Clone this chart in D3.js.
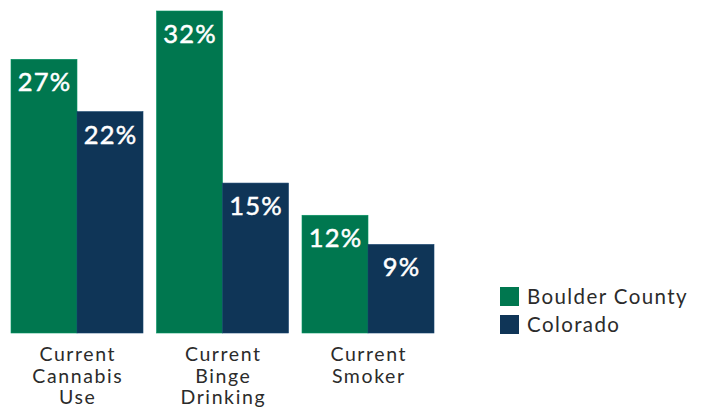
<!DOCTYPE html>
<html><head><meta charset="utf-8">
<script src="https://cdn.jsdelivr.net/npm/d3@7"></script>
<style>body{margin:0;background:#fff}svg{display:block;font-family:Lato,"Noto Sans",sans-serif}</style>
</head><body><svg id="c" width="706" height="409"></svg>
<script>
const categories = [["Current","Cannabis","Use"],["Current","Binge","Drinking"],["Current","Smoker"]];
const seriesNames = ["Boulder County","Colorado"];
const boulder = [27.2, 32.0, 11.7];
const colorado = [22.0, 14.9, 8.8];
const labelsBoulder = ["27%","32%","12%"];
const labelsColorado = ["22%","15%","9%"];
const colors = ["#00774f","#0f3557"];

const svg = d3.select("#c");
const x = d3.scaleBand().domain(d3.range(categories.length)).range([11, 434]).paddingInner(0.0928).paddingOuter(0);
const y = d3.scaleLinear().domain([0, 32]).range([333, 11]);
const xs = d3.scaleBand().domain([0,1]).range([0, x.bandwidth()]);
const series = [boulder, colorado];
const labs = [labelsBoulder, labelsColorado];

categories.forEach((c, i) => {
  const g = svg.append("g").attr("transform", `translate(${x(i)},0)`);
  series.forEach((s, k) => {
    g.append("rect").attr("x", xs(k)).attr("y", y(s[i])).attr("width", xs.bandwidth()).attr("height", y(0) - y(s[i]))
      .attr("fill", colors[k]).attr("stroke", d3.color(colors[k]).brighter(0.6)).attr("stroke-width", 0.6);
    g.append("text").attr("x", xs(k) + xs.bandwidth()/2 + 0.6).attr("y", y(s[i]) + 32).attr("text-anchor","middle")
      .attr("fill","#fff").attr("stroke","#fff").attr("stroke-width",0.5).attr("font-size", 25.5).attr("letter-spacing", 1.2).text(labs[k][i]);
  });
  const t = g.append("text").attr("text-anchor","middle").attr("fill","#2b2b2b").attr("font-size", 19.5).attr("letter-spacing", 1.6);
  c.forEach((line, j) => t.append("tspan").attr("x", x.bandwidth()/2 + 0.8).attr("y", 361 + j*21.5).text(line));
});

const leg = svg.append("g").attr("transform","translate(500,287)");
seriesNames.forEach((n, k) => {
  leg.append("rect").attr("x",0).attr("y",k*28).attr("width",19).attr("height",19).attr("fill",colors[k]);
  leg.append("text").attr("x",27).attr("y",k*28+17).attr("font-size",20.5).attr("letter-spacing",1.4).attr("fill","#2b2b2b").text(n);
});
</script></body></html>
